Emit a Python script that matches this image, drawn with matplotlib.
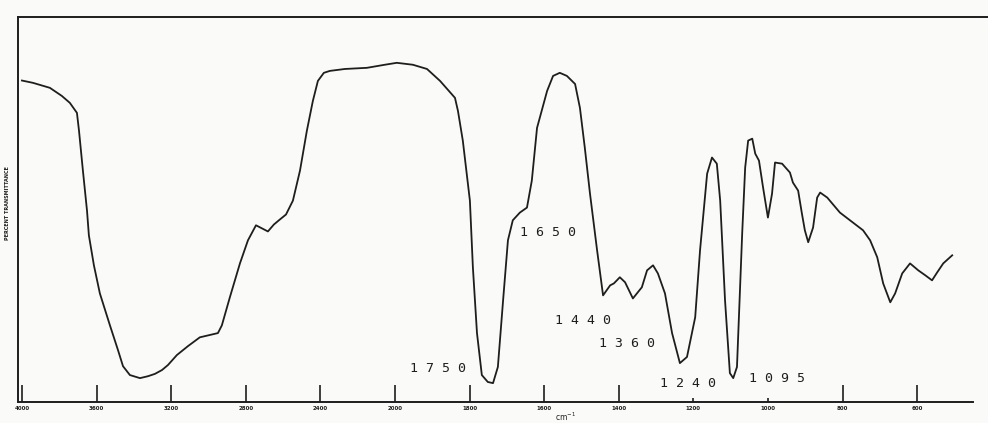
import numpy as np
import matplotlib
matplotlib.use("Agg")
import matplotlib.pyplot as plt
from matplotlib.ticker import FixedLocator, FixedFormatter

# Infrared spectrum: wavenumber (cm^-1) vs percent transmittance
wavenumber = [4000, 3941, 3850, 3786, 3743, 3705, 3694, 3673, 3651, 3641, 3614, 3582,
              3528, 3485, 3458, 3421, 3367, 3324, 3287, 3249, 3217, 3169, 3110, 3046,
              2992, 2949, 2928, 2885, 2831, 2788, 2745, 2713, 2681, 2649, 2617, 2584,
              2547, 2509, 2472, 2440, 2413, 2381, 2349, 2268, 2150, 2054, 1995, 1952,
              1914, 1879, 1839, 1831, 1818, 1799, 1791, 1780, 1767, 1751, 1737, 1724,
              1710, 1697, 1684, 1665, 1646, 1633, 1619, 1592, 1576, 1558, 1539, 1517,
              1504, 1491, 1477, 1458, 1442, 1423, 1413, 1397, 1383, 1362, 1338, 1324,
              1308, 1295, 1276, 1257, 1236, 1217, 1195, 1182, 1163, 1150, 1137, 1128,
              1115, 1102, 1093, 1083, 1069, 1061, 1053, 1042, 1034, 1024, 1013, 1000,
              989, 981, 962, 941, 933, 919, 909, 901, 892, 879, 868, 860, 841, 807,
              772, 745, 726, 707, 691, 672, 659, 640, 619, 597, 578, 560, 546, 530, 506]
transmittance = [83.5, 82.9, 81.6, 79.5, 77.7, 75.1, 70.5, 60.1, 49.7, 43.3, 35.5, 28.2,
                 19.9, 13.5, 9.3, 7.0, 6.2, 6.7, 7.3, 8.3, 9.6, 12.2, 14.5, 16.8,
                 17.4, 17.9, 19.9, 27.2, 36.0, 42.0, 45.9, 45.1, 44.3, 46.1, 47.4, 48.7,
                 52.3, 60.1, 70.5, 78.2, 83.4, 85.5, 86.0, 86.5, 86.8, 87.6, 88.1, 87.6,
                 86.5, 83.4, 79.0, 75.6, 67.9, 52.3, 35.0, 17.9, 7.0, 5.2, 4.9, 9.1,
                 26.4, 42.0, 47.2, 49.2, 50.5, 57.5, 71.2, 80.8, 84.7, 85.5, 84.7, 82.6,
                 76.4, 66.1, 54.1, 39.4, 27.7, 30.3, 30.8, 32.4, 31.1, 26.9, 29.8, 34.2,
                 35.5, 33.4, 28.2, 17.9, 10.1, 11.7, 22.0, 39.4, 59.3, 63.5, 61.9, 52.3,
                 26.4, 7.5, 6.2, 9.1, 43.8, 60.9, 67.9, 68.4, 64.5, 62.7, 55.7, 47.9,
                 54.1, 62.2, 61.9, 59.6, 57.0, 54.9, 49.0, 44.6, 41.5, 45.3, 53.1, 54.4, 53.1, 49.2,
                 46.6, 44.6, 42.0, 37.6, 30.8, 25.9, 28.2, 33.4, 36.0, 34.2, 32.9, 31.6, 33.7, 36.0, 38.1]

major_ticks = [4000, 3600, 3200, 2800, 2400, 2000, 1800, 1600, 1400, 800, 600]
minor_ticks = [1200, 1000]

peak_labels = ["1750", "1650", "1440", "1360", "1240", "1095"]
label_wn = [1885, 1590, 1496, 1378, 1214, 975]
label_t = [8.8, 44.0, 21.2, 15.3, 4.9, 6.2]


def fwd(w):
    w = np.asarray(w, dtype=float)
    return np.where(w <= 2000, w, 2000 + (w - 2000) / 2.0)


def inv(p):
    p = np.asarray(p, dtype=float)
    return np.where(p <= 2000, p, 2000 + (p - 2000) * 2.0)


fig = plt.figure(figsize=(9.88, 4.23), dpi=100, facecolor="#fafaf8")
ax = fig.add_axes([18 / 988, 21 / 423, 970 / 988, 385 / 423])
ax.set_facecolor("#fafaf8")
ax.set_xscale("function", functions=(fwd, inv))
ax.set_xlim(4021, 410)
ax.set_ylim(0, 100)

ax.plot(wavenumber, transmittance, color="#1e1e1e", lw=1.3)

for s in ["left", "top", "bottom"]:
    ax.spines[s].set_linewidth(1.4)
    ax.spines[s].set_color("#1e1e1e")
ax.spines["right"].set_visible(False)
ax.spines["bottom"].set_bounds(4021, 450)

ax.xaxis.set_major_locator(FixedLocator(major_ticks))
ax.xaxis.set_major_formatter(FixedFormatter([str(t) for t in major_ticks]))
ax.xaxis.set_minor_locator(FixedLocator(minor_ticks))
ax.xaxis.set_minor_formatter(FixedFormatter([str(t) for t in minor_ticks]))
ax.tick_params(axis="x", which="major", direction="in", length=12, width=1.2,
               labelsize=4, pad=3, colors="#1e1e1e")
ax.tick_params(axis="x", which="minor", direction="in", length=3, width=1.2,
               labelsize=4, pad=3, colors="#1e1e1e")
for lab in ax.get_xticklabels(which="both"):
    lab.set_fontweight("bold")
ax.set_yticks([])

ax.text(1572, -2.2, "cm$^{-1}$", fontsize=5.5, ha="left", va="top", color="#1e1e1e")
fig.text(0.008, 0.52, "PERCENT TRANSMITTANCE", rotation=90, fontsize=3.5,
         fontweight="bold", ha="center", va="center", color="#1e1e1e")

for lab, w, t in zip(peak_labels, label_wn, label_t):
    ax.text(w, t, " ".join(lab), fontsize=9.5, family="DejaVu Sans Mono",
            ha="center", va="center", color="#1e1e1e")

fig.savefig("out.png", dpi=100, facecolor=fig.get_facecolor())
